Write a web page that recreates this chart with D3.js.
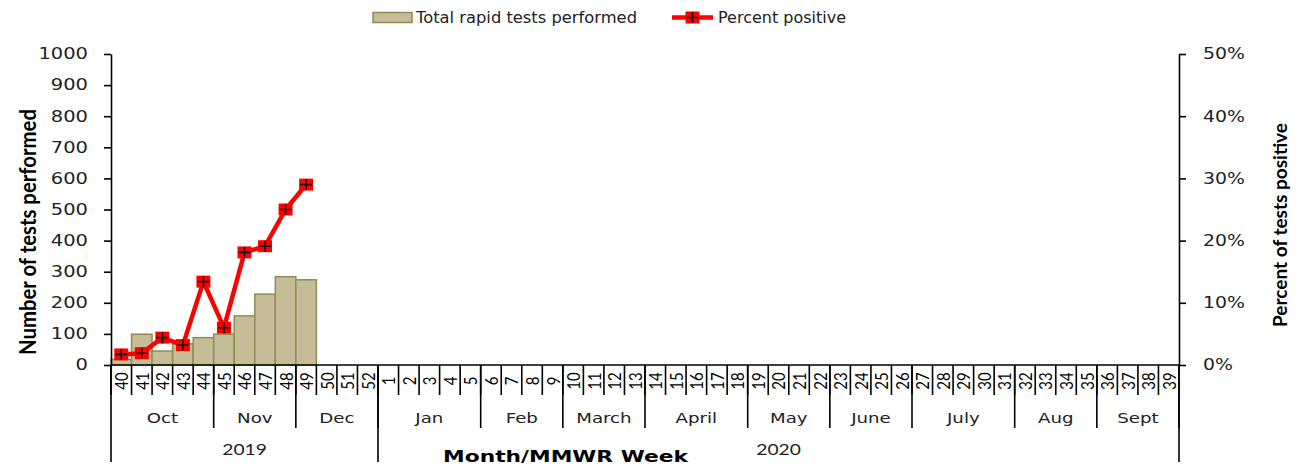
<!DOCTYPE html>
<html>
<head>
<meta charset="utf-8">
<script src="https://cdn.jsdelivr.net/npm/d3@7"></script>
<style>
  body { margin: 0; background: #fff; }
  svg { display: block; }
</style>
</head>
<body>
<svg id="chart" width="1302" height="469"></svg>
<script>

// MMWR weeks, Oct 2019 - Sept 2020
var weeks = [40, 41, 42, 43, 44, 45, 46, 47, 48, 49, 50, 51, 52,
  1, 2, 3, 4, 5, 6, 7, 8, 9, 10, 11, 12, 13, 14, 15, 16, 17, 18, 19, 20,
  21, 22, 23, 24, 25, 26, 27, 28, 29, 30, 31, 32, 33, 34, 35, 36, 37, 38, 39];

var monthNames = ["Oct", "Nov", "Dec", "Jan", "Feb", "March", "April", "May", "June", "July", "Aug", "Sept"];
var monthWeekCounts = [5, 4, 4, 5, 4, 4, 5, 4, 4, 5, 4, 4];

var yearNames = ["2019", "2020"];
var yearWeekCounts = [13, 39];

// reported weeks only (40 - 49)
var reportedWeeks = [40, 41, 42, 43, 44, 45, 46, 47, 48, 49];
var totalTests = [18, 99, 45, 68, 88, 99, 158, 228, 284, 274];
var pctPositive = [1.7, 1.9, 4.4, 3.2, 13.4, 6.0, 18.1, 19.1, 25.0, 29.0];

var leftTicks = [0, 100, 200, 300, 400, 500, 600, 700, 800, 900, 1000];
var rightTicks = [0, 10, 20, 30, 40, 50];

window.onload = function() {

  var svg = d3.select("#chart");

  var margin = {top: 54, right: 123, bottom: 104, left: 111},
      w = 1302,
      h = 469;

  var x_scale = d3.scaleBand()
    .domain(weeks.map(String))
    .range([margin.left, w - margin.right])
    .padding(0);

  var y_left = d3.scaleLinear()
    .domain([0, 1000])
    .range([h - margin.bottom, margin.top]);

  var y_right = d3.scaleLinear()
    .domain([0, 50])
    .range([h - margin.bottom, margin.top]);

  var bw = x_scale.bandwidth();
  var base = h - margin.bottom;

  // bars
  svg.append("g")
    .selectAll("rect")
    .data(reportedWeeks)
    .enter()
    .append("rect")
    .attr("x", function(d) { return x_scale(String(d)); })
    .attr("y", function(d, i) { return y_left(totalTests[i]); })
    .attr("width", bw)
    .attr("height", function(d, i) { return base - y_left(totalTests[i]); })
    .attr("fill", "#c4bd97")
    .attr("stroke", "#948a54")
    .attr("stroke-width", 1.5);

  // axes
  var yAxisL = d3.axisLeft(y_left).tickValues(leftTicks).tickSize(7).tickPadding(10.7)
    .tickSizeOuter(0).tickFormat(d3.format("d"));
  var gL = svg.append("g")
    .attr("transform", "translate(" + margin.left + ",0)")
    .call(yAxisL);
  styleAxis(gL, 1.3);

  var yAxisR = d3.axisRight(y_right).tickValues(rightTicks).tickSize(7).tickPadding(12)
    .tickSizeOuter(0).tickFormat(function(d) { return d + "%"; });
  var gR = svg.append("g")
    .attr("transform", "translate(" + (w - margin.right) + ",0)")
    .call(yAxisR);
  styleAxis(gR, 1.26);

  // bottom baseline
  svg.append("line")
    .attr("x1", margin.left).attr("x2", w - margin.right)
    .attr("y1", base).attr("y2", base)
    .attr("stroke", "#000").attr("stroke-width", 1.6);

  // week tick separators and labels
  var sepG = svg.append("g").attr("stroke", "#000").attr("stroke-width", 1.6);
  weeks.forEach(function(wk, i) {
    var xx = x_scale(String(wk));
    sepG.append("line").attr("x1", xx).attr("x2", xx).attr("y1", base).attr("y2", base + 30);
  });

  svg.append("g")
    .selectAll("text")
    .data(weeks)
    .enter()
    .append("text")
    .attr("transform", function(d) {
      return "translate(" + (x_scale(String(d)) + bw / 2) + "," + (base + 16) + ") scale(1.15,1) rotate(-90)";
    })
    .attr("text-anchor", "middle")
    .attr("dominant-baseline", "central")
    .attr("font-family", "Lato, sans-serif")
    .attr("font-size", 15)
    .attr("fill", "#000")
    .text(function(d) { return d; });

  // months
  var idx = 0;
  monthNames.forEach(function(m, i) {
    var x0 = x_scale(String(weeks[idx]));
    idx += monthWeekCounts[i];
    var x1 = idx < weeks.length ? x_scale(String(weeks[idx])) : w - margin.right;
    sepG.append("line").attr("x1", x1).attr("x2", x1).attr("y1", base).attr("y2", base + 63);
    svg.append("text")
      .attr("transform", "translate(" + ((x0 + x1) / 2) + "," + (base + 58) + ") scale(1.3,1)")
      .attr("text-anchor", "middle")
      .attr("font-family", "DejaVu Sans, Verdana, sans-serif")
      .attr("font-size", 14)
      .attr("fill", "#222")
      .text(m);
  });

  // years
  idx = 0;
  sepG.append("line").attr("x1", margin.left).attr("x2", margin.left).attr("y1", base).attr("y2", base + 97);
  yearNames.forEach(function(yr, i) {
    var x0 = x_scale(String(weeks[idx]));
    idx += yearWeekCounts[i];
    var x1 = idx < weeks.length ? x_scale(String(weeks[idx])) : w - margin.right;
    sepG.append("line").attr("x1", x1).attr("x2", x1).attr("y1", base).attr("y2", base + 97);
    svg.append("text")
      .attr("transform", "translate(" + ((x0 + x1) / 2) + "," + (base + 90) + ") scale(1.28,1)")
      .attr("text-anchor", "middle")
      .attr("font-family", "Lato, sans-serif")
      .attr("font-size", 15)
      .attr("fill", "#222")
      .text(yr);
  });

  // percent positive line
  var line = d3.line()
    .x(function(d) { return x_scale(String(d)) + bw / 2; })
    .y(function(d, i) { return y_right(pctPositive[i]); });

  svg.append("path")
    .datum(reportedWeeks)
    .attr("d", line)
    .attr("fill", "none")
    .attr("stroke", "#ff0000")
    .attr("stroke-width", 4.5)
    .attr("stroke-linejoin", "round");

  reportedWeeks.forEach(function(d, i) {
    drawMarker(svg, x_scale(String(d)) + bw / 2, y_right(pctPositive[i]));
  });

  // titles
  svg.append("text")
    .attr("transform", "translate(36,232) scale(1.3,1) rotate(-90)")
    .attr("text-anchor", "middle")
    .attr("font-family", "Lato, sans-serif")
    .attr("font-weight", "bold")
    .attr("font-size", 17)
    .attr("textLength", 246)
    .attr("lengthAdjust", "spacingAndGlyphs")
    .attr("fill", "#000")
    .text("Number of tests performed");

  svg.append("text")
    .attr("transform", "translate(1287,225) rotate(-90)")
    .attr("text-anchor", "middle")
    .attr("font-family", "Lato, sans-serif")
    .attr("font-weight", "bold")
    .attr("font-size", 18)
    .attr("textLength", 204)
    .attr("lengthAdjust", "spacingAndGlyphs")
    .attr("fill", "#000")
    .text("Percent of tests positive");

  svg.append("text")
    .attr("x", 443)
    .attr("y", 462)
    .attr("font-family", "DejaVu Sans, Verdana, sans-serif")
    .attr("font-weight", "bold")
    .attr("font-size", 16)
    .attr("textLength", 245)
    .attr("lengthAdjust", "spacingAndGlyphs")
    .attr("fill", "#000")
    .text("Month/MMWR Week");

  // legend
  svg.append("rect")
    .attr("x", 373).attr("y", 12.5)
    .attr("width", 39).attr("height", 10)
    .attr("fill", "#c4bd97")
    .attr("stroke", "#948a54")
    .attr("stroke-width", 1.5);
  svg.append("text")
    .attr("x", 416).attr("y", 22.5)
    .attr("font-family", "DejaVu Sans, Verdana, sans-serif")
    .attr("font-size", 15)
    .attr("textLength", 221)
    .attr("lengthAdjust", "spacingAndGlyphs")
    .attr("fill", "#222")
    .text("Total rapid tests performed");

  svg.append("line")
    .attr("x1", 672).attr("x2", 713)
    .attr("y1", 17.5).attr("y2", 17.5)
    .attr("stroke", "#ff0000")
    .attr("stroke-width", 4.5);
  drawMarker(svg, 692.5, 17.5);
  svg.append("text")
    .attr("x", 718).attr("y", 22.5)
    .attr("font-family", "DejaVu Sans, Verdana, sans-serif")
    .attr("font-size", 15)
    .attr("textLength", 128)
    .attr("lengthAdjust", "spacingAndGlyphs")
    .attr("fill", "#222")
    .text("Percent positive");

  function styleAxis(g, k) {
    g.attr("font-family", "DejaVu Sans, Verdana, sans-serif")
      .attr("font-size", 15);
    g.select(".domain").attr("stroke", "#000").attr("stroke-width", 1.6);
    g.selectAll(".tick line").attr("stroke", "#000").attr("stroke-width", 1.6);
    g.selectAll(".tick text")
      .attr("fill", "#222")
      .attr("transform", "scale(" + k + ",1)");
  }

  function drawMarker(svg, cx, cy) {
    svg.append("rect")
      .attr("x", cx - 7).attr("y", cy - 6)
      .attr("width", 14).attr("height", 12)
      .attr("fill", "#ff0000");
    svg.append("path")
      .attr("d", "M" + (cx - 6) + "," + cy + "H" + (cx + 6) + "M" + cx + "," + (cy - 5.5) + "V" + (cy + 5.5))
      .attr("stroke", "#111")
      .attr("stroke-width", 1.6)
      .attr("fill", "none");
  }
};
</script>
</body>
</html>
